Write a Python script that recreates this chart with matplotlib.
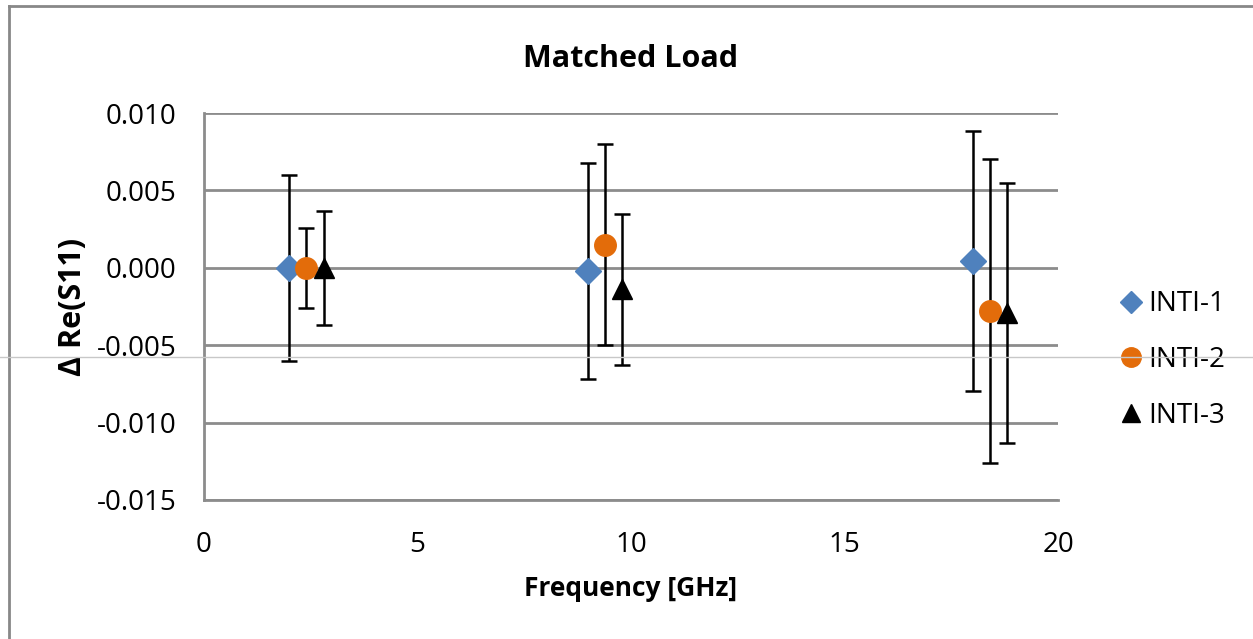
import numpy as np
import matplotlib.pyplot as plt
from matplotlib.lines import Line2D

plt.switch_backend('agg')
plt.rcParams['font.family'] = ['Open Sans', 'DejaVu Sans']

# 数据
freq_1 = [2.0, 9.0, 18.0]
val_1 = [0.0000, -0.0002, 0.00045]
err_1 = [0.0060, 0.0070, 0.0084]

freq_2 = [2.4, 9.4, 18.4]
val_2 = [0.0000, 0.0015, -0.0028]
err_2 = [0.0026, 0.0065, 0.0098]

freq_3 = [2.8, 9.8, 18.8]
val_3 = [0.0000, -0.0014, -0.0029]
err_3 = [0.0037, 0.0049, 0.0084]

series_names = ['INTI-1', 'INTI-2', 'INTI-3']
y_ticks = [0.010, 0.005, 0.000, -0.005, -0.010, -0.015]
x_ticks = [0, 5, 10, 15, 20]

fig = plt.figure(figsize=(12.53, 6.39), dpi=100)
ax = fig.add_axes([204 / 1253, 1 - 500 / 639, (1058 - 204) / 1253, (500 - 113) / 639])

err_kw = dict(ecolor='black', elinewidth=1.8, capsize=5.5, capthick=1.8, linestyle='none')
ax.errorbar(freq_1, val_1, yerr=err_1, fmt='D', color='#4F81BD', ms=13, zorder=3,
            label=series_names[0], **err_kw)
ax.errorbar(freq_2, val_2, yerr=err_2, fmt='o', color='#E36C0A', ms=15.5, zorder=3,
            label=series_names[1], **err_kw)
ax.errorbar(freq_3, val_3, yerr=err_3, fmt='^', color='black', ms=15, zorder=3,
            label=series_names[2], **err_kw)

ax.set_xlim(0, 20)
ax.set_ylim(-0.015, 0.010)
ax.set_xticks(x_ticks)
ax.set_yticks(y_ticks)
ax.set_yticklabels([f'{v:.3f}' for v in y_ticks])
ax.tick_params(length=0, labelsize=20, pad=20)
ax.tick_params(axis='x', pad=22)

ax.grid(axis='y', color='#8c8c8c', linewidth=2)
ax.set_axisbelow(True)
for s in ['top', 'right']:
    ax.spines[s].set_visible(False)
for s in ['left', 'bottom']:
    ax.spines[s].set_color('#8c8c8c')
    ax.spines[s].set_linewidth(2)

ax.set_title('Matched Load', fontsize=22, fontweight='bold', pad=33)
ax.set_xlabel('Frequency [GHz]', fontsize=19, fontweight='bold', labelpad=12)
ax.set_ylabel('Δ Re(S11)', fontsize=22, fontweight='bold', labelpad=6)

# 图例 (只显示标记)
handles = [Line2D([], [], marker='D', color='#4F81BD', linestyle='none', ms=11),
           Line2D([], [], marker='o', color='#E36C0A', linestyle='none', ms=14),
           Line2D([], [], marker='^', color='black', linestyle='none', ms=13)]
fig.legend(handles, series_names, loc='center left', bbox_to_anchor=(1098 / 1253, 1 - 360 / 639),
           frameon=False, fontsize=20, handlelength=0.6, handletextpad=0.3, labelspacing=1.0)

# 外框和细线
fig.add_artist(Line2D([8.5 / 1253, 8.5 / 1253], [0, 1 - 6 / 639], color='#888888', linewidth=2))
fig.add_artist(Line2D([8.5 / 1253, 1], [1 - 6 / 639, 1 - 6 / 639], color='#888888', linewidth=2))
fig.add_artist(Line2D([0, 1], [1 - 357 / 639, 1 - 357 / 639], color='#c8c8c8', linewidth=1, zorder=10))

fig.savefig('out.png', dpi=100)
